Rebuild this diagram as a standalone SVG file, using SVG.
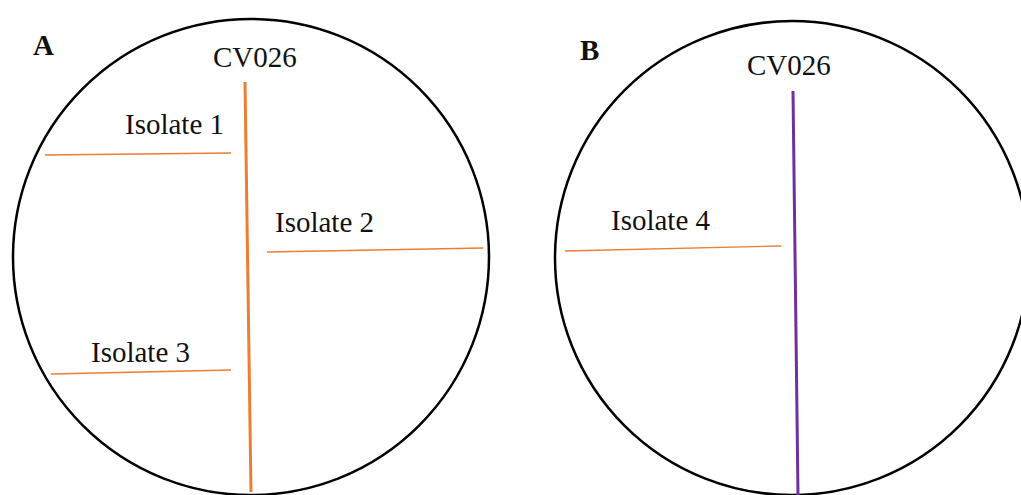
<svg xmlns="http://www.w3.org/2000/svg" width="1021" height="495" viewBox="0 0 1021 495">
<style>
.plate{fill:none;stroke:#000;stroke-width:2.5}
.lbl{font-family:"Liberation Serif","Times New Roman",serif;font-size:29px;fill:#111}
.panel{font-family:"Liberation Serif","Times New Roman",serif;font-size:29px;font-weight:bold;fill:#111}
.streak{stroke:#ED7D31;stroke-width:1.3;fill:none}
.cvA{stroke:#ED7D31;stroke-width:3;fill:none}
.cvB{stroke:#7030A0;stroke-width:3;fill:none}
</style>
<rect width="1021" height="495" fill="#fff"/>
<g id="plateA">
<circle class="plate" cx="251" cy="257" r="238"/>
<text class="panel" x="33" y="55">A</text>
<text class="lbl" x="213" y="67">CV026</text>
</g>
<g id="plateB">
<circle class="plate" cx="792" cy="258" r="237"/>
<text class="panel" x="580" y="60">B</text>
<text class="lbl" x="747" y="75">CV026</text>
</g>
<g id="isolate1"><text class="lbl" x="125" y="134">Isolate 1</text></g>
<g id="isolate2"><text class="lbl" x="275" y="232">Isolate 2</text></g>
<g id="isolate3"><text class="lbl" x="91" y="362">Isolate 3</text></g>
<g id="isolate4"><text class="lbl" x="611" y="230">Isolate 4</text></g>
<g id="connectors">
<line class="cvA" x1="245" y1="82" x2="251" y2="492"/>
<line class="cvB" x1="793" y1="91" x2="798" y2="495"/>
<line class="streak" x1="45" y1="155" x2="231" y2="153"/>
<line class="streak" x1="267" y1="252" x2="483" y2="248"/>
<line class="streak" x1="51" y1="374" x2="231" y2="370"/>
<line class="streak" x1="565" y1="251" x2="781" y2="246"/>
</g>
</svg>
